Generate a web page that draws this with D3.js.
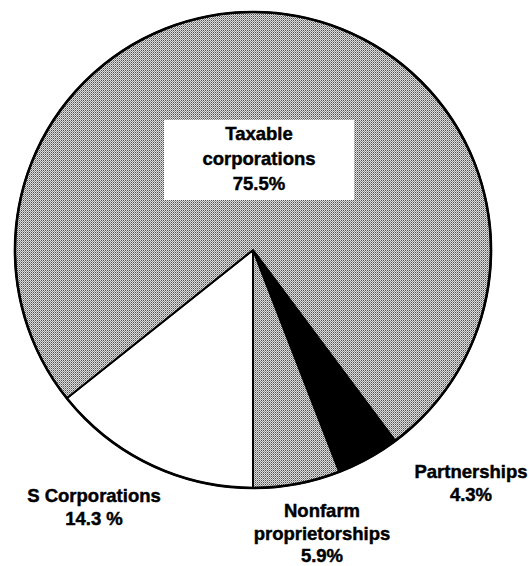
<!DOCTYPE html>
<html>
<head>
<meta charset="utf-8">
<script src="https://cdn.jsdelivr.net/npm/d3@7"></script>
<style>
  html, body { margin: 0; padding: 0; background: #fff; }
  svg { display: block; }
  text { font-family: "Liberation Sans", Arial, Helvetica, sans-serif; font-weight: bold; fill: #000; stroke: #000; stroke-width: 0.45px; }
</style>
</head>
<body>
<script>
// ---- Data ----
const categories = ["Partnerships", "Nonfarm proprietorships", "S Corporations", "Taxable corporations"];
const shares = [4.3, 5.9, 14.3, 75.5];
const labelLines = [
  ["Partnerships", "4.3%"],
  ["Nonfarm", "proprietorships", "5.9%"],
  ["S Corporations", "14.3 %"],
  ["Taxable", "corporations", "75.5%"]
];

// ---- Layout ----
const W = 529, H = 566;
const cx = 253, cy = 250, R = 238;
const fills = ["#000", "url(#stipple)", "#fff", "url(#stipple)"];
const labelPos = [
  { x: 471, y: 478, dy: 23 },
  { x: 322, y: 517, dy: 22.5 },
  { x: 94,  y: 502, dy: 23 },
  { x: 259, y: 140, dy: 25 }
];

const svg = d3.select("body").append("svg").attr("width", W).attr("height", H);

// halftone stipple pattern
const defs = svg.append("defs");
const pat = defs.append("pattern").attr("id", "stipple")
  .attr("patternUnits", "userSpaceOnUse").attr("width", 2).attr("height", 2);
pat.append("rect").attr("width", 2).attr("height", 2).attr("fill", "#dedede");
pat.append("rect").attr("x", 0).attr("y", 0).attr("width", 1).attr("height", 1).attr("fill", "#505050");
pat.append("rect").attr("x", 1).attr("y", 1).attr("width", 1).attr("height", 1).attr("fill", "#949494");

const total = d3.sum(shares);
const before = shares[0] + shares[1];
const start = Math.PI - 2 * Math.PI * before / total;

const pie = d3.pie().sort(null).value(d => d)
  .startAngle(start).endAngle(start + 2 * Math.PI);
const arcs = pie(shares);
const arc = d3.arc().innerRadius(0).outerRadius(R);

const g = svg.append("g").attr("transform", `translate(${cx},${cy})`);
g.selectAll("path.slice").data(arcs).join("path")
  .attr("class", "slice")
  .attr("d", arc)
  .attr("fill", (d, i) => fills[i])
  .attr("stroke", "#000")
  .attr("stroke-width", 2)
  .attr("stroke-linejoin", "round");

// outer rim, slightly heavier
g.append("circle").attr("r", R).attr("fill", "none").attr("stroke", "#000").attr("stroke-width", 2.6);

// white box behind the taxable label
svg.append("rect").attr("x", 164).attr("y", 120).attr("width", 190).attr("height", 80).attr("fill", "#fff");

// labels
labelLines.forEach((lines, i) => {
  const p = labelPos[i];
  const t = svg.append("text").attr("text-anchor", "middle").style("font-size", "18.5px");
  lines.forEach((ln, j) => {
    t.append("tspan").attr("x", p.x).attr("y", p.y + j * p.dy).text(ln);
  });
});
</script>
</body>
</html>
